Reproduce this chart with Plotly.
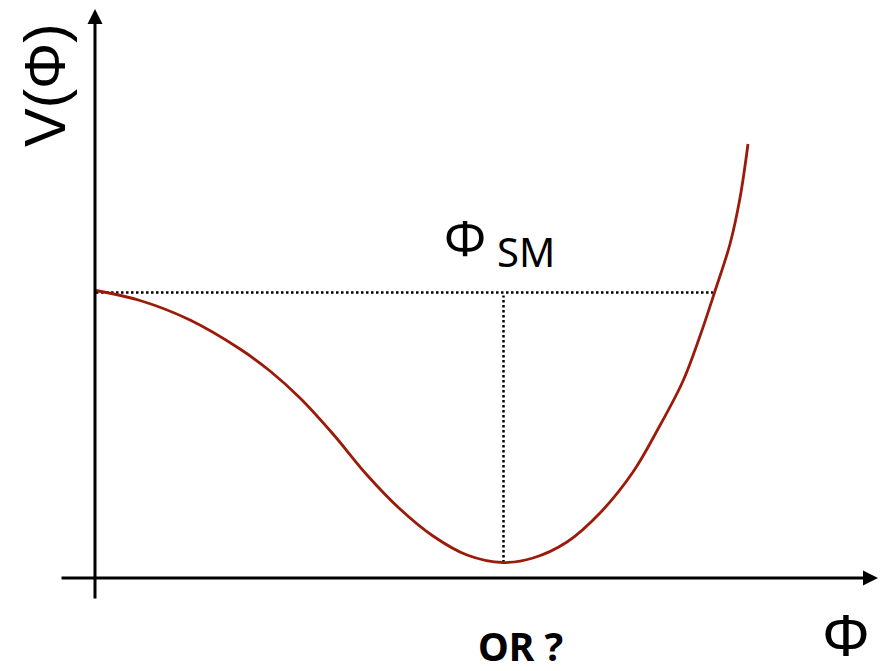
import plotly.graph_objects as go

# Potential curve V(phi) (arbitrary units)
phi = [1, 45, 95, 145, 175, 205, 238, 272, 305, 338, 372, 408, 438, 472, 505, 538,
       563, 588, 605, 620, 635, 645, 653]
V = [287.5, 277.5, 258, 229, 207, 180, 144, 103, 69, 42, 23, 15.5, 20, 36, 65, 106,
     149, 197, 242, 287, 334, 380, 434]

# Standard-model vacuum marker
phi_sm = 408.5
v_false = 285.5
v_min = 15.5
phi_cross = 618

fig = go.Figure()

# dotted guide lines
fig.add_trace(go.Scatter(x=[1, phi_cross], y=[v_false, v_false], mode="lines",
                         line=dict(color="black", width=2.5, dash="2.5px,2.5px"),
                         hoverinfo="skip", showlegend=False))
fig.add_trace(go.Scatter(x=[phi_sm, phi_sm], y=[v_min, v_false - 3], mode="lines",
                         line=dict(color="black", width=2.5, dash="2.5px,2.5px"),
                         hoverinfo="skip", showlegend=False))

# the potential
fig.add_trace(go.Scatter(x=phi, y=V, mode="lines",
                         line=dict(color="#9b1a0a", width=2.8, shape="spline", smoothing=1.0),
                         hoverinfo="skip", showlegend=False))

annotations = [
    # y-axis arrow
    dict(x=0, y=569, ax=0, ay=-22, xref="x", yref="y", axref="x", ayref="y",
         showarrow=True, arrowhead=2, arrowsize=1, arrowwidth=3, arrowcolor="black", text=""),
    # x-axis arrow
    dict(x=783, y=0, ax=-35, ay=0, xref="x", yref="y", axref="x", ayref="y",
         showarrow=True, arrowhead=2, arrowsize=1, arrowwidth=3, arrowcolor="black", text=""),
    # labels
    dict(x=-51, y=493, xref="x", yref="y", text="V(Φ)", showarrow=False, textangle=-90,
         font=dict(family="Liberation Sans, Arial", size=58, color="black"),
         xanchor="center", yanchor="middle"),
    dict(x=751, y=-57, xref="x", yref="y", text="Φ", showarrow=False,
         font=dict(family="Liberation Sans, Arial", size=60, color="black"),
         xanchor="center", yanchor="middle"),
    dict(x=393, y=341, xref="x", yref="y", text="Φ", showarrow=False,
         font=dict(family="Noto Sans", size=50, color="black"),
         xanchor="right", yanchor="middle"),
    dict(x=400, y=327, xref="x", yref="y", text="SM", showarrow=False,
         font=dict(family="Noto Sans", size=40, color="black"),
         xanchor="left", yanchor="middle"),
    dict(x=425, y=-67, xref="x", yref="y", text="<b>OR ?</b>", showarrow=False,
         font=dict(family="Noto Sans", size=39, color="black"),
         xanchor="center", yanchor="middle"),
]

# The page body has an 8px margin, so the axis ranges are shifted by 8px to compensate.
fig.update_layout(
    width=886, height=671,
    margin=dict(l=0, r=0, t=0, b=0),
    paper_bgcolor="white", plot_bgcolor="white",
    xaxis=dict(range=[-87, 799], visible=False, fixedrange=True),
    yaxis=dict(range=[-101, 570], visible=False, fixedrange=True),
    annotations=annotations,
    showlegend=False,
)

fig.write_html("out.html")
